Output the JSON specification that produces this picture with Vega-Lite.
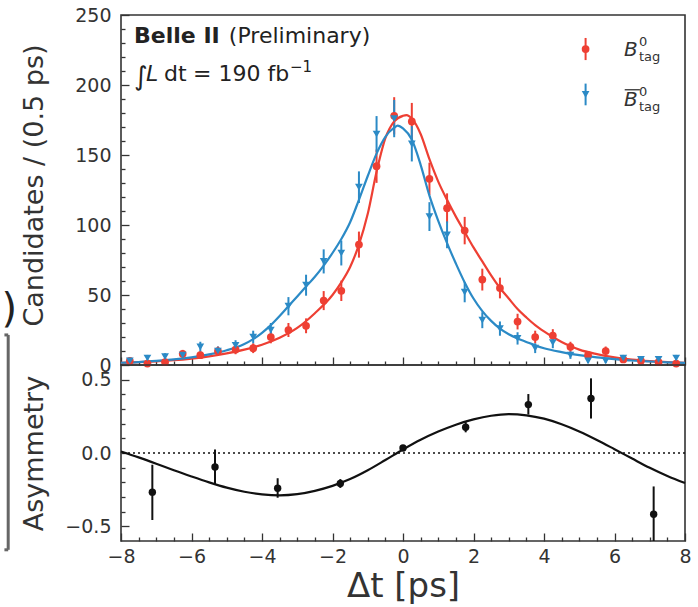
{
  "$schema": "https://vega.github.io/schema/vega-lite/v6.json",
  "padding": {"left": 0, "top": 5, "right": 10, "bottom": 2},
  "background": "white",
  "spacing": 0,
  "bounds": "flush",
  "config": {
    "font": "DejaVu Sans",
    "view": {"stroke": "#333", "strokeWidth": 1.6},
    "axis": {"domain": false, "grid": false, "labelFont": "DejaVu Sans", "labelFontSize": 19, "labelColor": "#333", "tickColor": "#333", "tickWidth": 1.3, "titleFont": "DejaVu Sans", "titleFontSize": 27, "titleFontWeight": "normal", "titleColor": "#333"}
  },
  "datasets": {
    "counts": [
      {"t": -7.75, "n": 3, "lo": 1.3, "hi": 4.7, "tag": "B0"},
      {"t": -7.25, "n": 1, "lo": 0, "hi": 2, "tag": "B0"},
      {"t": -6.75, "n": 2, "lo": 0.6, "hi": 3.4, "tag": "B0"},
      {"t": -6.25, "n": 8, "lo": 5.2, "hi": 10.8, "tag": "B0"},
      {"t": -5.75, "n": 7, "lo": 4.4, "hi": 9.6, "tag": "B0"},
      {"t": -5.25, "n": 10, "lo": 6.8, "hi": 13.2, "tag": "B0"},
      {"t": -4.75, "n": 11, "lo": 7.7, "hi": 14.3, "tag": "B0"},
      {"t": -4.25, "n": 12, "lo": 8.5, "hi": 15.5, "tag": "B0"},
      {"t": -3.75, "n": 20, "lo": 15.5, "hi": 24.5, "tag": "B0"},
      {"t": -3.25, "n": 25, "lo": 20, "hi": 30, "tag": "B0"},
      {"t": -2.75, "n": 28, "lo": 22.7, "hi": 33.3, "tag": "B0"},
      {"t": -2.25, "n": 46, "lo": 39.2, "hi": 52.8, "tag": "B0"},
      {"t": -1.75, "n": 53, "lo": 45.7, "hi": 60.3, "tag": "B0"},
      {"t": -1.25, "n": 86, "lo": 76.7, "hi": 95.3, "tag": "B0"},
      {"t": -0.75, "n": 142, "lo": 130.1, "hi": 153.9, "tag": "B0"},
      {"t": -0.25, "n": 178, "lo": 164.7, "hi": 191.3, "tag": "B0"},
      {"t": 0.25, "n": 174, "lo": 160.8, "hi": 187.2, "tag": "B0"},
      {"t": 0.75, "n": 133, "lo": 121.5, "hi": 144.5, "tag": "B0"},
      {"t": 1.25, "n": 112, "lo": 101.4, "hi": 122.6, "tag": "B0"},
      {"t": 1.75, "n": 96, "lo": 86.2, "hi": 105.8, "tag": "B0"},
      {"t": 2.25, "n": 61, "lo": 53.2, "hi": 68.8, "tag": "B0"},
      {"t": 2.75, "n": 55, "lo": 47.6, "hi": 62.4, "tag": "B0"},
      {"t": 3.25, "n": 31, "lo": 25.4, "hi": 36.6, "tag": "B0"},
      {"t": 3.75, "n": 20, "lo": 15.5, "hi": 24.5, "tag": "B0"},
      {"t": 4.25, "n": 21, "lo": 16.4, "hi": 25.6, "tag": "B0"},
      {"t": 4.75, "n": 13, "lo": 9.4, "hi": 16.6, "tag": "B0"},
      {"t": 5.25, "n": 7, "lo": 4.4, "hi": 9.6, "tag": "B0"},
      {"t": 5.75, "n": 10, "lo": 6.8, "hi": 13.2, "tag": "B0"},
      {"t": 6.25, "n": 4, "lo": 2, "hi": 6, "tag": "B0"},
      {"t": 6.75, "n": 3, "lo": 1.3, "hi": 4.7, "tag": "B0"},
      {"t": 7.25, "n": 2, "lo": 0.6, "hi": 3.4, "tag": "B0"},
      {"t": 7.75, "n": 1, "lo": 0, "hi": 2, "tag": "B0"},
      {"t": -7.75, "n": 3, "lo": 1.3, "hi": 4.7, "tag": "B0bar"},
      {"t": -7.25, "n": 5, "lo": 2.8, "hi": 7.2, "tag": "B0bar"},
      {"t": -6.75, "n": 6, "lo": 3.6, "hi": 8.4, "tag": "B0bar"},
      {"t": -6.25, "n": 7, "lo": 4.4, "hi": 9.6, "tag": "B0bar"},
      {"t": -5.75, "n": 13, "lo": 9.4, "hi": 16.6, "tag": "B0bar"},
      {"t": -5.25, "n": 10, "lo": 6.8, "hi": 13.2, "tag": "B0bar"},
      {"t": -4.75, "n": 14, "lo": 10.3, "hi": 17.7, "tag": "B0bar"},
      {"t": -4.25, "n": 20, "lo": 15.5, "hi": 24.5, "tag": "B0bar"},
      {"t": -3.75, "n": 25, "lo": 20, "hi": 30, "tag": "B0bar"},
      {"t": -3.25, "n": 42, "lo": 35.5, "hi": 48.5, "tag": "B0bar"},
      {"t": -2.75, "n": 57, "lo": 49.5, "hi": 64.5, "tag": "B0bar"},
      {"t": -2.25, "n": 74, "lo": 65.4, "hi": 82.6, "tag": "B0bar"},
      {"t": -1.75, "n": 80, "lo": 71.1, "hi": 88.9, "tag": "B0bar"},
      {"t": -1.25, "n": 127, "lo": 115.7, "hi": 138.3, "tag": "B0bar"},
      {"t": -0.75, "n": 165, "lo": 152.2, "hi": 177.8, "tag": "B0bar"},
      {"t": -0.25, "n": 176, "lo": 162.7, "hi": 189.3, "tag": "B0bar"},
      {"t": 0.25, "n": 158, "lo": 145.4, "hi": 170.6, "tag": "B0bar"},
      {"t": 0.75, "n": 106, "lo": 95.7, "hi": 116.3, "tag": "B0bar"},
      {"t": 1.25, "n": 93, "lo": 83.4, "hi": 102.6, "tag": "B0bar"},
      {"t": 1.75, "n": 52, "lo": 44.8, "hi": 59.2, "tag": "B0bar"},
      {"t": 2.25, "n": 32, "lo": 26.3, "hi": 37.7, "tag": "B0bar"},
      {"t": 2.75, "n": 26, "lo": 20.9, "hi": 31.1, "tag": "B0bar"},
      {"t": 3.25, "n": 19, "lo": 14.6, "hi": 23.4, "tag": "B0bar"},
      {"t": 3.75, "n": 12, "lo": 8.5, "hi": 15.5, "tag": "B0bar"},
      {"t": 4.25, "n": 16, "lo": 12, "hi": 20, "tag": "B0bar"},
      {"t": 4.75, "n": 7, "lo": 4.4, "hi": 9.6, "tag": "B0bar"},
      {"t": 5.25, "n": 3, "lo": 1.3, "hi": 4.7, "tag": "B0bar"},
      {"t": 5.75, "n": 3, "lo": 1.3, "hi": 4.7, "tag": "B0bar"},
      {"t": 6.25, "n": 5, "lo": 2.8, "hi": 7.2, "tag": "B0bar"},
      {"t": 6.75, "n": 4, "lo": 2, "hi": 6, "tag": "B0bar"},
      {"t": 7.25, "n": 4, "lo": 2, "hi": 6, "tag": "B0bar"},
      {"t": 7.75, "n": 5, "lo": 2.8, "hi": 7.2, "tag": "B0bar"}
    ],
    "curves": [
      {"t": -8, "v": 1.5, "tag": "B0"}, {"t": -7.5, "v": 2.0, "tag": "B0"}, {"t": -7, "v": 2.6, "tag": "B0"},
      {"t": -6.5, "v": 3.4, "tag": "B0"}, {"t": -6, "v": 4.6, "tag": "B0"}, {"t": -5.5, "v": 6.2, "tag": "B0"},
      {"t": -5, "v": 8.3, "tag": "B0"}, {"t": -4.5, "v": 11, "tag": "B0"}, {"t": -4, "v": 14.5, "tag": "B0"},
      {"t": -3.5, "v": 19.5, "tag": "B0"}, {"t": -3, "v": 26.5, "tag": "B0"}, {"t": -2.5, "v": 37, "tag": "B0"},
      {"t": -2, "v": 50, "tag": "B0"}, {"t": -1.75, "v": 59, "tag": "B0"}, {"t": -1.5, "v": 70, "tag": "B0"},
      {"t": -1.25, "v": 86, "tag": "B0"}, {"t": -1, "v": 108, "tag": "B0"}, {"t": -0.75, "v": 138, "tag": "B0"},
      {"t": -0.5, "v": 162, "tag": "B0"}, {"t": -0.25, "v": 174, "tag": "B0"}, {"t": 0, "v": 178, "tag": "B0"},
      {"t": 0.1, "v": 178.5, "tag": "B0"}, {"t": 0.25, "v": 176, "tag": "B0"}, {"t": 0.5, "v": 165, "tag": "B0"},
      {"t": 0.75, "v": 147, "tag": "B0"}, {"t": 1, "v": 131, "tag": "B0"}, {"t": 1.25, "v": 118, "tag": "B0"},
      {"t": 1.5, "v": 106, "tag": "B0"}, {"t": 1.75, "v": 95, "tag": "B0"}, {"t": 2, "v": 84, "tag": "B0"},
      {"t": 2.25, "v": 74, "tag": "B0"}, {"t": 2.5, "v": 64, "tag": "B0"}, {"t": 2.75, "v": 55, "tag": "B0"},
      {"t": 3, "v": 47.5, "tag": "B0"}, {"t": 3.25, "v": 40, "tag": "B0"}, {"t": 3.5, "v": 34, "tag": "B0"},
      {"t": 3.75, "v": 28.5, "tag": "B0"}, {"t": 4, "v": 24, "tag": "B0"}, {"t": 4.25, "v": 20, "tag": "B0"},
      {"t": 4.5, "v": 16.5, "tag": "B0"}, {"t": 4.75, "v": 13.5, "tag": "B0"}, {"t": 5, "v": 11, "tag": "B0"},
      {"t": 5.5, "v": 7.8, "tag": "B0"}, {"t": 6, "v": 5.5, "tag": "B0"}, {"t": 6.5, "v": 3.9, "tag": "B0"},
      {"t": 7, "v": 2.8, "tag": "B0"}, {"t": 7.5, "v": 2.0, "tag": "B0"}, {"t": 8, "v": 1.5, "tag": "B0"},
      {"t": -8, "v": 1.6, "tag": "B0bar"}, {"t": -7.5, "v": 2.1, "tag": "B0bar"}, {"t": -7, "v": 2.9, "tag": "B0bar"},
      {"t": -6.5, "v": 4.0, "tag": "B0bar"}, {"t": -6, "v": 5.5, "tag": "B0bar"}, {"t": -5.5, "v": 7.6, "tag": "B0bar"},
      {"t": -5, "v": 10.5, "tag": "B0bar"}, {"t": -4.5, "v": 15, "tag": "B0bar"}, {"t": -4.25, "v": 18.5, "tag": "B0bar"},
      {"t": -4, "v": 23, "tag": "B0bar"}, {"t": -3.75, "v": 28.5, "tag": "B0bar"}, {"t": -3.5, "v": 35, "tag": "B0bar"},
      {"t": -3.25, "v": 42, "tag": "B0bar"}, {"t": -3, "v": 49, "tag": "B0bar"}, {"t": -2.75, "v": 56, "tag": "B0bar"},
      {"t": -2.5, "v": 63, "tag": "B0bar"}, {"t": -2.25, "v": 71, "tag": "B0bar"}, {"t": -2, "v": 80, "tag": "B0bar"},
      {"t": -1.75, "v": 90, "tag": "B0bar"}, {"t": -1.5, "v": 102, "tag": "B0bar"}, {"t": -1.25, "v": 118, "tag": "B0bar"},
      {"t": -1, "v": 135, "tag": "B0bar"}, {"t": -0.75, "v": 151, "tag": "B0bar"}, {"t": -0.5, "v": 163, "tag": "B0bar"},
      {"t": -0.25, "v": 169.5, "tag": "B0bar"}, {"t": -0.15, "v": 171, "tag": "B0bar"}, {"t": 0, "v": 169, "tag": "B0bar"},
      {"t": 0.25, "v": 161, "tag": "B0bar"}, {"t": 0.5, "v": 143, "tag": "B0bar"}, {"t": 0.75, "v": 121, "tag": "B0bar"},
      {"t": 1, "v": 103, "tag": "B0bar"}, {"t": 1.25, "v": 87, "tag": "B0bar"}, {"t": 1.5, "v": 72.5, "tag": "B0bar"},
      {"t": 1.75, "v": 59, "tag": "B0bar"}, {"t": 2, "v": 47.5, "tag": "B0bar"}, {"t": 2.25, "v": 38.5, "tag": "B0bar"},
      {"t": 2.5, "v": 31.5, "tag": "B0bar"}, {"t": 2.75, "v": 26, "tag": "B0bar"}, {"t": 3, "v": 22, "tag": "B0bar"},
      {"t": 3.25, "v": 19, "tag": "B0bar"}, {"t": 3.5, "v": 16.5, "tag": "B0bar"}, {"t": 3.75, "v": 14, "tag": "B0bar"},
      {"t": 4, "v": 12, "tag": "B0bar"}, {"t": 4.5, "v": 9.2, "tag": "B0bar"}, {"t": 5, "v": 7, "tag": "B0bar"},
      {"t": 5.5, "v": 5.4, "tag": "B0bar"}, {"t": 6, "v": 4.2, "tag": "B0bar"}, {"t": 6.5, "v": 3.2, "tag": "B0bar"},
      {"t": 7, "v": 2.5, "tag": "B0bar"}, {"t": 7.5, "v": 1.9, "tag": "B0bar"}, {"t": 8, "v": 1.5, "tag": "B0bar"}
    ],
    "asym": [
      {"t": -7.111, "a": -0.267, "lo": -0.457, "hi": -0.08},
      {"t": -5.333, "a": -0.096, "lo": -0.216, "hi": 0.024},
      {"t": -3.556, "a": -0.24, "lo": -0.305, "hi": -0.172},
      {"t": -1.778, "a": -0.208, "lo": -0.238, "hi": -0.178},
      {"t": 0, "a": 0.034, "lo": 0.016, "hi": 0.052},
      {"t": 1.778, "a": 0.176, "lo": 0.141, "hi": 0.211},
      {"t": 3.556, "a": 0.33, "lo": 0.262, "hi": 0.402},
      {"t": 5.333, "a": 0.372, "lo": 0.235, "hi": 0.509},
      {"t": 7.111, "a": -0.418, "lo": -0.608, "hi": -0.228}
    ],
    "asymcurve": [
      {"t": -8, "a": 0.01}, {"t": -7.5, "a": -0.03}, {"t": -7, "a": -0.073}, {"t": -6.5, "a": -0.118},
      {"t": -6, "a": -0.16}, {"t": -5.5, "a": -0.2}, {"t": -5, "a": -0.236}, {"t": -4.5, "a": -0.264},
      {"t": -4, "a": -0.282}, {"t": -3.5, "a": -0.289}, {"t": -3, "a": -0.281}, {"t": -2.5, "a": -0.258},
      {"t": -2, "a": -0.224}, {"t": -1.5, "a": -0.178}, {"t": -1, "a": -0.118}, {"t": -0.5, "a": -0.048},
      {"t": 0, "a": 0.024}, {"t": 0.5, "a": 0.09}, {"t": 1, "a": 0.146}, {"t": 1.5, "a": 0.193},
      {"t": 2, "a": 0.229}, {"t": 2.5, "a": 0.254}, {"t": 3, "a": 0.265}, {"t": 3.5, "a": 0.257},
      {"t": 4, "a": 0.234}, {"t": 4.5, "a": 0.196}, {"t": 5, "a": 0.147}, {"t": 5.5, "a": 0.089},
      {"t": 6, "a": 0.026}, {"t": 6.5, "a": -0.038}, {"t": 7, "a": -0.101}, {"t": 7.5, "a": -0.157},
      {"t": 8, "a": -0.205}
    ]
  },
  "vconcat": [
    {
      "width": 564,
      "height": 350,
      "resolve": {"axis": {"x": "independent", "y": "independent"}},
      "layer": [
        {
          "data": {"name": "counts"},
          "mark": {"type": "rule", "strokeWidth": 2},
          "encoding": {
            "x": {"field": "t", "type": "quantitative", "scale": {"domain": [-8, 8], "nice": false},
                  "axis": {"orient": "bottom", "values": [-8, -6, -4, -2, 0, 2, 4, 6, 8], "labels": false, "tickSize": -8, "title": null}},
            "y": {"field": "lo", "type": "quantitative", "scale": {"domain": [0, 250], "nice": false},
                  "axis": {"orient": "left", "values": [0, 50, 100, 150, 200, 250], "tickSize": -8, "labelPadding": 18, "title": "Candidates / (0.5 ps)", "titleX": -73, "titleY": 170}},
            "y2": {"field": "hi"},
            "color": {"field": "tag", "type": "nominal", "scale": {"domain": ["B0", "B0bar"], "range": ["#ee3f33", "#2b8ac6"]}, "legend": null}
          }
        },
        {
          "data": {"name": "curves"},
          "mark": {"type": "line", "strokeWidth": 2.2, "interpolate": "monotone"},
          "encoding": {
            "x": {"field": "t", "type": "quantitative",
                  "axis": {"orient": "bottom", "values": [-7.5, -7, -6.5, -5.5, -5, -4.5, -3.5, -3, -2.5, -1.5, -1, -0.5, 0.5, 1, 1.5, 2.5, 3, 3.5, 4.5, 5, 5.5, 6.5, 7, 7.5], "labels": false, "tickSize": -4, "title": null}},
            "y": {"field": "v", "type": "quantitative",
                  "axis": {"orient": "left", "values": [10, 20, 30, 40, 60, 70, 80, 90, 110, 120, 130, 140, 160, 170, 180, 190, 210, 220, 230, 240], "labels": false, "tickSize": -4, "title": null}},
            "color": {"field": "tag", "type": "nominal", "legend": null}
          }
        },
        {
          "data": {"name": "counts"},
          "mark": {"type": "point", "filled": true, "size": 60, "opacity": 1},
          "encoding": {
            "x": {"field": "t", "type": "quantitative", "axis": null},
            "y": {"field": "n", "type": "quantitative", "axis": null},
            "color": {"field": "tag", "type": "nominal", "legend": null},
            "shape": {"field": "tag", "type": "nominal", "scale": {"domain": ["B0", "B0bar"], "range": ["circle", "triangle-down"]}, "legend": null}
          }
        },
        {
          "data": {"values": [{}]},
          "mark": {"type": "rule", "strokeWidth": 2, "color": "#ee3f33"},
          "encoding": {
            "x": {"datum": 5.18, "type": "quantitative", "axis": null},
            "y": {"datum": 217.8, "type": "quantitative", "axis": null},
            "y2": {"datum": 233.6}
          }
        },
        {
          "data": {"values": [{}]},
          "mark": {"type": "point", "filled": true, "size": 60, "opacity": 1, "shape": "circle", "color": "#ee3f33"},
          "encoding": {
            "x": {"datum": 5.18, "type": "quantitative", "axis": null},
            "y": {"datum": 225.7, "type": "quantitative", "axis": null}
          }
        },
        {
          "data": {"values": [{}]},
          "mark": {"type": "rule", "strokeWidth": 2, "color": "#2b8ac6"},
          "encoding": {
            "x": {"datum": 5.18, "type": "quantitative", "axis": null},
            "y": {"datum": 185.5, "type": "quantitative", "axis": null},
            "y2": {"datum": 201}
          }
        },
        {
          "data": {"values": [{}]},
          "mark": {"type": "point", "filled": true, "size": 60, "opacity": 1, "shape": "triangle-down", "color": "#2b8ac6"},
          "encoding": {
            "x": {"datum": 5.18, "type": "quantitative", "axis": null},
            "y": {"datum": 193.3, "type": "quantitative", "axis": null}
          }
        },
        {
          "data": {"values": [{}]},
          "mark": {"type": "text", "text": "B", "fontSize": 20, "fontStyle": "italic", "align": "left", "baseline": "alphabetic", "color": "#333"},
          "encoding": {
            "x": {"datum": 6.27, "type": "quantitative", "axis": null},
            "y": {"datum": 220.7, "type": "quantitative", "axis": null}
          }
        },
        {
          "data": {"values": [{}]},
          "mark": {"type": "text", "text": "0", "fontSize": 13, "align": "left", "baseline": "alphabetic", "dx": 15, "dy": -10, "color": "#333"},
          "encoding": {
            "x": {"datum": 6.27, "type": "quantitative", "axis": null},
            "y": {"datum": 220.7, "type": "quantitative", "axis": null}
          }
        },
        {
          "data": {"values": [{}]},
          "mark": {"type": "text", "text": "tag", "fontSize": 13, "align": "left", "baseline": "alphabetic", "dx": 15, "dy": 5, "color": "#333"},
          "encoding": {
            "x": {"datum": 6.27, "type": "quantitative", "axis": null},
            "y": {"datum": 220.7, "type": "quantitative", "axis": null}
          }
        },
        {
          "data": {"values": [{}]},
          "mark": {"type": "text", "text": "B", "fontSize": 20, "fontStyle": "italic", "align": "left", "baseline": "alphabetic", "color": "#333"},
          "encoding": {
            "x": {"datum": 6.27, "type": "quantitative", "axis": null},
            "y": {"datum": 185, "type": "quantitative", "axis": null}
          }
        },
        {
          "data": {"values": [{}]},
          "mark": {"type": "text", "text": "0", "fontSize": 13, "align": "left", "baseline": "alphabetic", "dx": 15, "dy": -10, "color": "#333"},
          "encoding": {
            "x": {"datum": 6.27, "type": "quantitative", "axis": null},
            "y": {"datum": 185, "type": "quantitative", "axis": null}
          }
        },
        {
          "data": {"values": [{}]},
          "mark": {"type": "text", "text": "tag", "fontSize": 13, "align": "left", "baseline": "alphabetic", "dx": 15, "dy": 5, "color": "#333"},
          "encoding": {
            "x": {"datum": 6.27, "type": "quantitative", "axis": null},
            "y": {"datum": 185, "type": "quantitative", "axis": null}
          }
        },
        {
          "data": {"values": [{}]},
          "mark": {"type": "rule", "strokeWidth": 1.3, "color": "#333"},
          "encoding": {
            "x": {"datum": 6.29, "type": "quantitative", "axis": null},
            "x2": {"datum": 6.72},
            "y": {"datum": 196.6, "type": "quantitative", "axis": null}
          }
        },
        {
          "data": {"values": [{}]},
          "mark": {"type": "text", "text": "Belle II", "fontSize": 22, "fontWeight": "bold", "align": "left", "baseline": "alphabetic", "color": "#222"},
          "encoding": {
            "x": {"datum": -7.63, "type": "quantitative", "axis": null},
            "y": {"datum": 229.8, "type": "quantitative", "axis": null}
          }
        },
        {
          "data": {"values": [{}]},
          "mark": {"type": "text", "text": "(Preliminary)", "fontSize": 22, "align": "left", "baseline": "alphabetic", "color": "#222"},
          "encoding": {
            "x": {"datum": -4.94, "type": "quantitative", "axis": null},
            "y": {"datum": 229.8, "type": "quantitative", "axis": null}
          }
        },
        {
          "data": {"values": [{}]},
          "mark": {"type": "text", "text": "∫", "fontSize": 26, "align": "left", "baseline": "alphabetic", "color": "#222", "dy": 4},
          "encoding": {
            "x": {"datum": -7.63, "type": "quantitative", "axis": null},
            "y": {"datum": 202.9, "type": "quantitative", "axis": null}
          }
        },
        {
          "data": {"values": [{}]},
          "mark": {"type": "text", "text": "L", "fontSize": 22, "fontStyle": "italic", "align": "left", "baseline": "alphabetic", "color": "#222", "dx": 12},
          "encoding": {
            "x": {"datum": -7.63, "type": "quantitative", "axis": null},
            "y": {"datum": 202.9, "type": "quantitative", "axis": null}
          }
        },
        {
          "data": {"values": [{}]},
          "mark": {"type": "text", "text": "dt", "fontSize": 22, "align": "left", "baseline": "alphabetic", "color": "#222", "dx": 30},
          "encoding": {
            "x": {"datum": -7.63, "type": "quantitative", "axis": null},
            "y": {"datum": 202.9, "type": "quantitative", "axis": null}
          }
        },
        {
          "data": {"values": [{}]},
          "mark": {"type": "text", "text": "= 190 fb", "fontSize": 22, "align": "left", "baseline": "alphabetic", "color": "#222", "dx": 59},
          "encoding": {
            "x": {"datum": -7.63, "type": "quantitative", "axis": null},
            "y": {"datum": 202.9, "type": "quantitative", "axis": null}
          }
        },
        {
          "data": {"values": [{}]},
          "mark": {"type": "text", "text": "−1", "fontSize": 15, "align": "left", "baseline": "alphabetic", "color": "#222", "dx": 156, "dy": -9},
          "encoding": {
            "x": {"datum": -7.63, "type": "quantitative", "axis": null},
            "y": {"datum": 202.9, "type": "quantitative", "axis": null}
          }
        },
        {
          "data": {"values": [{}]},
          "mark": {"type": "text", "text": ")", "fontSize": 40, "align": "left", "baseline": "middle", "color": "#222", "dx": -3},
          "encoding": {
            "x": {"datum": -11.307, "type": "quantitative", "axis": null},
            "y": {"datum": 39.3, "type": "quantitative", "axis": null}
          }
        }
      ]
    },
    {
      "width": 564,
      "height": 176,
      "resolve": {"axis": {"x": "independent", "y": "independent"}},
      "layer": [
        {
          "data": {"values": [{}]},
          "mark": {"type": "rule", "strokeDash": [2, 3], "strokeWidth": 1.6, "color": "#111"},
          "encoding": {
            "y": {"datum": 0, "type": "quantitative", "scale": {"domain": [-0.6, 0.6], "nice": false}, "axis": null}
          }
        },
        {
          "data": {"name": "asym"},
          "mark": {"type": "rule", "strokeWidth": 2, "color": "#111", "clip": true},
          "encoding": {
            "x": {"field": "t", "type": "quantitative", "scale": {"domain": [-8, 8], "nice": false},
                  "axis": {"orient": "bottom", "values": [-8, -6, -4, -2, 0, 2, 4, 6, 8], "format": "d", "labelFlush": false, "tickSize": -8, "labelPadding": 14, "title": "Δt [ps]", "titleFontSize": 34, "titlePadding": 3}},
            "y": {"field": "lo", "type": "quantitative",
                  "axis": {"orient": "left", "values": [-0.5, 0, 0.5], "format": ".1f", "tickSize": -8, "labelPadding": 18, "title": "Asymmetry", "titleX": -73}},
            "y2": {"field": "hi"}
          }
        },
        {
          "data": {"name": "asymcurve"},
          "mark": {"type": "line", "strokeWidth": 2.2, "color": "#111", "interpolate": "monotone"},
          "encoding": {
            "x": {"field": "t", "type": "quantitative",
                  "axis": {"orient": "bottom", "values": [-7.5, -7, -6.5, -5.5, -5, -4.5, -3.5, -3, -2.5, -1.5, -1, -0.5, 0.5, 1, 1.5, 2.5, 3, 3.5, 4.5, 5, 5.5, 6.5, 7, 7.5], "labels": false, "tickSize": -4, "title": null}},
            "y": {"field": "a", "type": "quantitative",
                  "axis": {"orient": "left", "values": [-0.4, -0.3, -0.2, -0.1, 0.1, 0.2, 0.3, 0.4], "labels": false, "tickSize": -4, "title": null}}
          }
        },
        {
          "data": {"name": "asym"},
          "mark": {"type": "point", "filled": true, "size": 55, "opacity": 1, "shape": "circle", "color": "#111"},
          "encoding": {
            "x": {"field": "t", "type": "quantitative", "axis": null},
            "y": {"field": "a", "type": "quantitative", "axis": null}
          }
        },
        {
          "data": {"values": [{}]},
          "mark": {"type": "rule", "strokeWidth": 3, "color": "#666"},
          "encoding": {
            "x": {"datum": -11.307, "type": "quantitative", "axis": null},
            "x2": {"datum": -11.2},
            "y": {"datum": 0.805, "type": "quantitative", "axis": null}
          }
        },
        {
          "data": {"values": [{}]},
          "mark": {"type": "rule", "strokeWidth": 3, "color": "#666"},
          "encoding": {
            "x": {"datum": -11.2, "type": "quantitative", "axis": null},
            "y": {"datum": 0.805, "type": "quantitative", "axis": null},
            "y2": {"datum": -0.66}
          }
        },
        {
          "data": {"values": [{}]},
          "mark": {"type": "rule", "strokeWidth": 3, "color": "#666"},
          "encoding": {
            "x": {"datum": -11.307, "type": "quantitative", "axis": null},
            "x2": {"datum": -11.2},
            "y": {"datum": -0.66, "type": "quantitative", "axis": null}
          }
        }
      ]
    }
  ]
}
